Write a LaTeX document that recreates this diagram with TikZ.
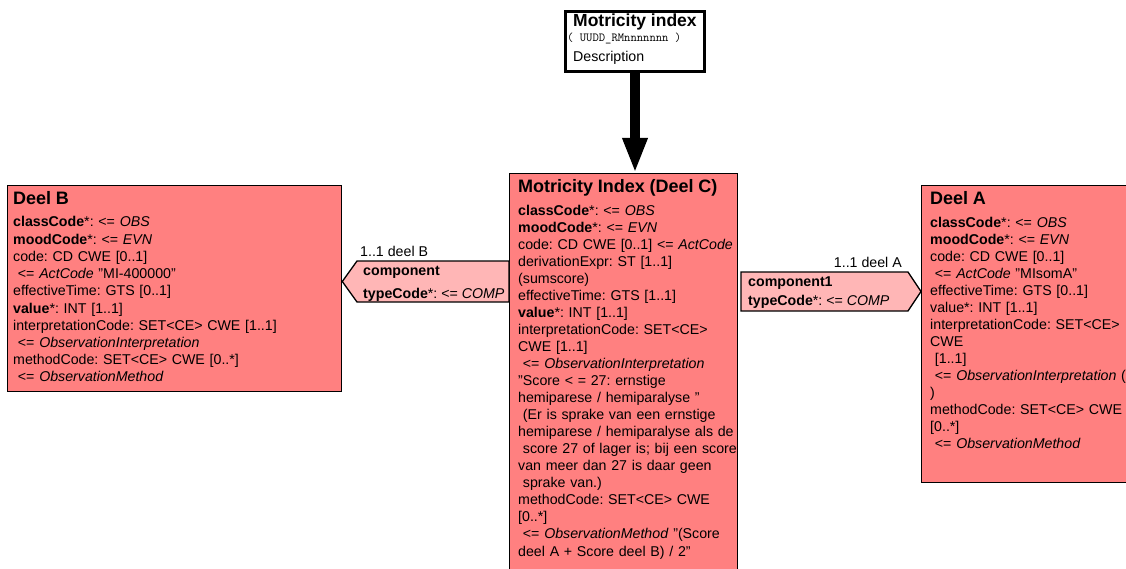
\documentclass[tikz,border=0pt]{standalone}
\usepackage{fontspec}
\setmainfont{Liberation Sans}
\usetikzlibrary{arrows.meta}
\definecolor{actfill}{HTML}{FF8080}
\definecolor{relfill}{HTML}{FFB6B6}
\frenchspacing
\newcommand{\titlefnt}{\fontsize{18}{18}\selectfont\bfseries}
\newcommand{\bodyB}{\frenchspacing\fontsize{14.2}{17.2}\selectfont\lineskiplimit=-50pt\relax}
\newcommand{\bodyC}{\frenchspacing\fontsize{14.2}{17.05}\selectfont\lineskiplimit=-50pt\relax}
\newcommand{\bodyA}{\frenchspacing\fontsize{14.2}{17.05}\selectfont\lineskiplimit=-50pt\relax}
\tikzset{
  actbox/.style={draw=black, fill=actfill, line width=1.3pt, anchor=north west, inner sep=0pt},
  relshape/.style={draw=black, fill=relfill, line width=1.3pt, line join=miter},
  boxtext/.style={anchor=base west, inner sep=0pt, text width=320pt, align=left},
  lbl/.style={anchor=base west, inner sep=0pt, font=\frenchspacing\fontsize{14.2}{16}\selectfont},
}
\begin{document}
\begin{tikzpicture}[x=1pt, y=-1pt]
\useasboundingbox (0,0) rectangle (1126,569);

% class boxes
\node[actbox, minimum width=334pt, minimum height=206pt] (b) at (7,185) {};
\node[actbox, minimum width=228pt, minimum height=420pt] (c) at (509,173) {};
\node[actbox, minimum width=230pt, minimum height=297pt] (a) at (921,185) {};

% header box
\node[draw=black, fill=white, line width=3pt, anchor=north west, inner sep=0pt,
      minimum width=139pt, minimum height=60pt] (mi) at (564,10) {};
\node[lbl, font=\fontsize{17.5}{18}\selectfont\bfseries] (mit) at (573,27) {Motricity index};
\node[lbl, font=\fontsize{12.3}{13}\selectfont\ttfamily] (mic) at (567,42) {( UUDD\_RMnnnnnnn )};
\node[lbl] (mid) at (573,62) {Description};

% arrow
\draw[line width=10pt, -{Triangle[length=35pt 0 0, width=23pt 0 0]}] (mi.south) -- (mi.south |- c.north);

% Deel B text
\node[boxtext, font=\bodyB] (bt) at (13,205) {{\titlefnt Deel B}\\[4.8pt]
\textbf{classCode}*: <= \textit{OBS}\\
\textbf{moodCode}*: <= \textit{EVN}\\
code: CD CWE [0..1]\\
\ <= \textit{ActCode} "MI-400000"\\
effectiveTime: GTS [0..1]\\
\textbf{value}*: INT [1..1]\\
interpretationCode: SET<CE> CWE [1..1]\\
\ <= \textit{ObservationInterpretation}\\
methodCode: SET<CE> CWE [0..*]\\
\ <= \textit{ObservationMethod}};

% Deel C text
\node[boxtext, font=\bodyC] (ct) at (518,193) {{\titlefnt Motricity Index (Deel C)}\\[5pt]
\textbf{classCode}*: <= \textit{OBS}\\
\textbf{moodCode}*: <= \textit{EVN}\\
code: CD CWE [0..1] <= \textit{ActCode}\\
derivationExpr: ST [1..1]\\
(sumscore)\\
effectiveTime: GTS [1..1]\\
\textbf{value}*: INT [1..1]\\
interpretationCode: SET<CE>\\
CWE [1..1]\\
\ <= \textit{ObservationInterpretation}\\
"Score < = 27: ernstige\\
hemiparese / hemiparalyse "\\
\ (Er is sprake van een ernstige\\
hemiparese / hemiparalyse als de\\
\ score 27 of lager is; bij een score\\
van meer dan 27 is daar geen\\
\ sprake van.)\\
methodCode: SET<CE> CWE\\
{[}0..*]\\
\ <= \textit{ObservationMethod} "(Score\\
deel A + Score deel B) / 2"};

% Deel A text
\node[boxtext, font=\bodyA] (at) at (930,205) {{\titlefnt Deel A}\\[5pt]
\textbf{classCode}*: <= \textit{OBS}\\
\textbf{moodCode}*: <= \textit{EVN}\\
code: CD CWE [0..1]\\
\ <= \textit{ActCode} "MIsomA"\\
effectiveTime: GTS [0..1]\\
value*: INT [1..1]\\
interpretationCode: SET<CE>\\
CWE\\
\ {[}1..1]\\
\ <= \textit{ObservationInterpretation} (\\
)\\
methodCode: SET<CE> CWE\\
{[}0..*]\\
\ <= \textit{ObservationMethod}};

% relationship B (points left to Deel B)
\draw[relshape] (c.west |- 0,261) -- (357,261) -- (b.east |- 0,281.5) -- (357,302) -- (c.west |- 0,302) -- cycle;
\node[lbl] (rbl) at (360,257) {1..1 deel B};
\node[lbl, font=\fontsize{14.2}{16}\selectfont\bfseries] (rbn) at (363,275) {component};
\node[lbl] (rbt) at (363,298) {\textbf{typeCode}*: <= \textit{COMP}};

% relationship A (points right to Deel A)
\draw[relshape] (741,272) -- (908,272) -- (a.west |- 0,291.5) -- (908,311) -- (741,311) -- cycle;
\node[lbl, anchor=base east] (ral) at (902,267) {1..1 deel A};
\node[lbl, font=\fontsize{14.2}{16}\selectfont\bfseries] (ran) at (748,286) {component1};
\node[lbl] (rat) at (748,305) {\textbf{typeCode}*: <= \textit{COMP}};
\end{tikzpicture}
\end{document}
